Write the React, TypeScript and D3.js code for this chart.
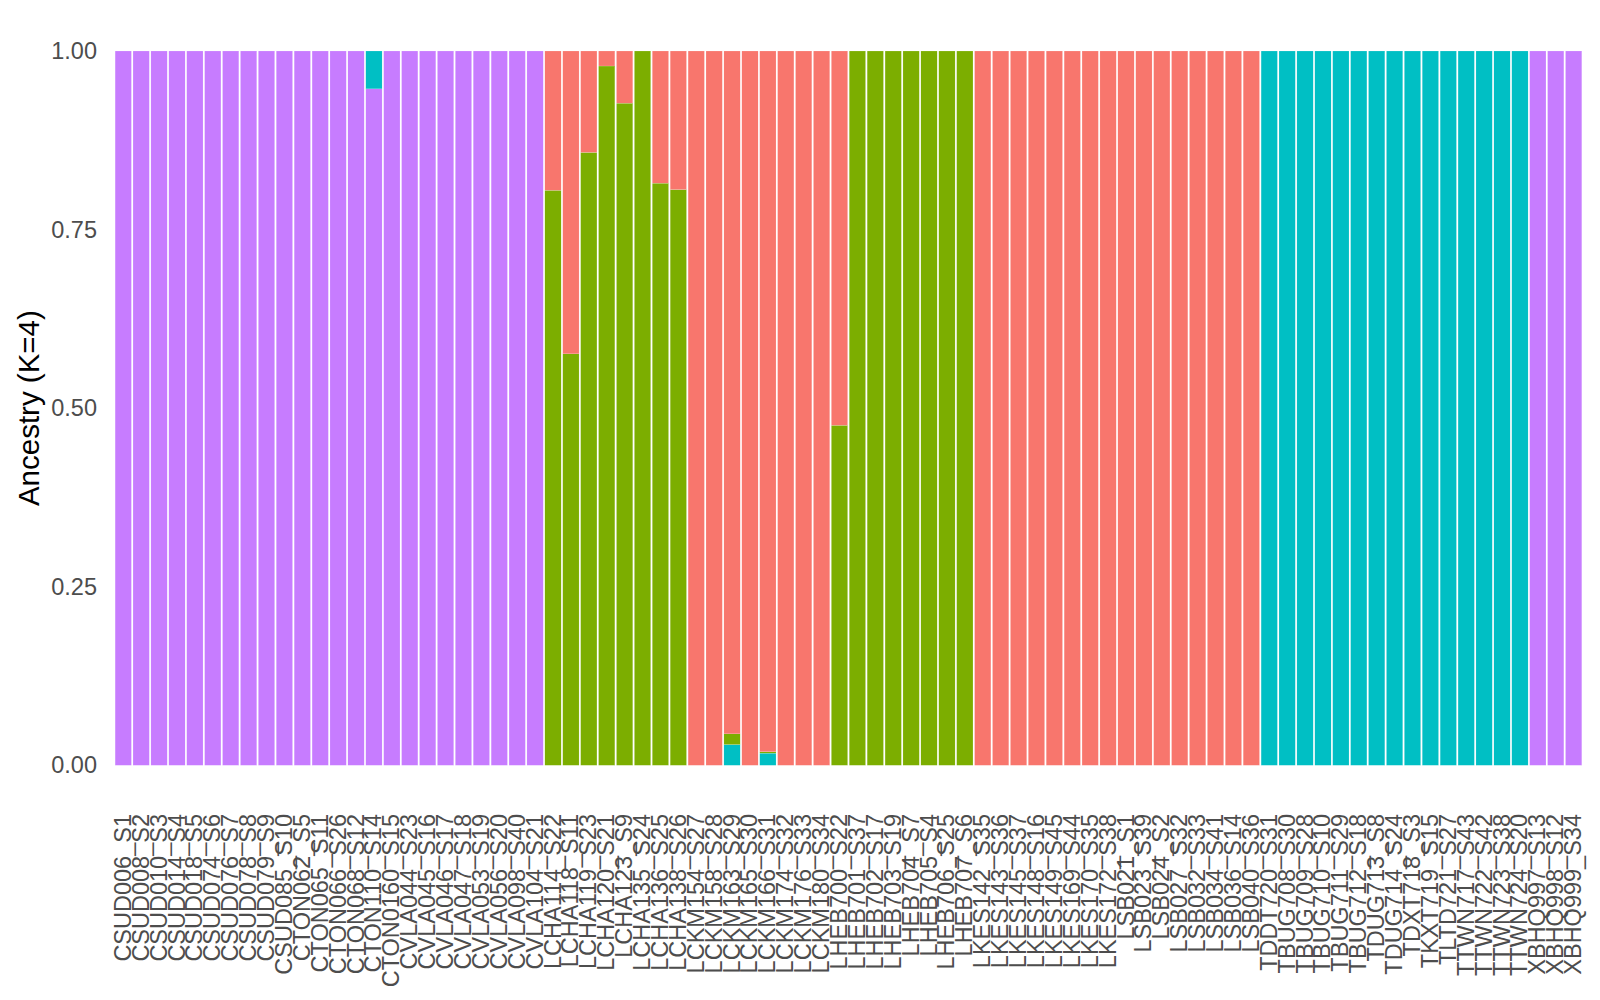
import React from "react";
import * as d3 from "d3";

const samples: string[] = [
  "CSUD006_S1", "CSUD008_S2", "CSUD010_S3", "CSUD014_S4", "CSUD018_S5", "CSUD074_S6", "CSUD076_S7", "CSUD078_S8", "CSUD079_S9", "CSUD085_S10",
  "CTON062_S5", "CTON065_S11", "CTON066_S26", "CTON068_S12", "CTON110_S14", "CTON0160_S15",
  "CVLA044_S23", "CVLA045_S16", "CVLA046_S17", "CVLA047_S18", "CVLA053_S19", "CVLA056_S20", "CVLA098_S40", "CVLA104_S21",
  "LCHA114_S22", "LCHA118_S11", "LCHA119_S23", "LCHA120_S21", "LCHA123_S9", "LCHA135_S24", "LCHA136_S25", "LCHA138_S26",
  "LCKM154_S27", "LCKM158_S28", "LCKM163_S29", "LCKM165_S30", "LCKM166_S31", "LCKM174_S32", "LCKM176_S33", "LCKM180_S34",
  "LHEB700_S22", "LHEB701_S37", "LHEB702_S17", "LHEB703_S19", "LHEB704_S7", "LHEB705_S4", "LHEB706_S25", "LHEB707_S6",
  "LKES142_S35", "LKES143_S36", "LKES145_S37", "LKES148_S16", "LKES149_S45", "LKES169_S44", "LKES170_S35", "LKES172_S38",
  "LSB021_S1", "LSB023_S39", "LSB024_S2", "LSB027_S32", "LSB032_S33", "LSB034_S41", "LSB036_S14", "LSB040_S36",
  "TDDT720_S31", "TBUG708_S30", "TBUG709_S28", "TBUG710_S10", "TBUG711_S29", "TBUG712_S18", "TDUG713_S8", "TDUG714_S24",
  "TDXT718_S3", "TKXT719_S15", "TLTD721_S27", "TTWN717_S43", "TTWN722_S42", "TTWN723_S38", "TTWN724_S20",
  "XBHQ997_S13", "XBHQ998_S12", "XBHQ999_S34",
];

// ancestry components (stacked bottom -> top: purple, teal, green, red)
const purpleQ: number[] = [
  1, 1, 1, 1, 1, 1, 1, 1, 1, 1,
  1, 1, 1, 1, 0.947, 1,
  1, 1, 1, 1, 1, 1, 1, 1,
  0, 0, 0, 0, 0, 0, 0, 0,
  0, 0, 0, 0, 0, 0, 0, 0,
  0, 0, 0, 0, 0, 0, 0, 0,
  0, 0, 0, 0, 0, 0, 0, 0,
  0, 0, 0, 0, 0, 0, 0, 0,
  0, 0, 0, 0, 0, 0, 0, 0,
  0, 0, 0, 0, 0, 0, 0,
  1, 1, 1,
];
const tealQ: number[] = [
  0, 0, 0, 0, 0, 0, 0, 0, 0, 0,
  0, 0, 0, 0, 0.053, 0,
  0, 0, 0, 0, 0, 0, 0, 0,
  0, 0, 0, 0, 0, 0, 0, 0,
  0, 0, 0.029, 0, 0.017, 0, 0, 0,
  0, 0, 0, 0, 0, 0, 0, 0,
  0, 0, 0, 0, 0, 0, 0, 0,
  0, 0, 0, 0, 0, 0, 0, 0,
  1, 1, 1, 1, 1, 1, 1, 1,
  1, 1, 1, 1, 1, 1, 1,
  0, 0, 0,
];
const greenQ: number[] = [
  0, 0, 0, 0, 0, 0, 0, 0, 0, 0,
  0, 0, 0, 0, 0, 0,
  0, 0, 0, 0, 0, 0, 0, 0,
  0.805, 0.576, 0.858, 0.979, 0.927, 1, 0.815, 0.806,
  0, 0, 0.015, 0, 0.002, 0, 0, 0,
  0.476, 1, 1, 1, 1, 1, 1, 1,
  0, 0, 0, 0, 0, 0, 0, 0,
  0, 0, 0, 0, 0, 0, 0, 0,
  0, 0, 0, 0, 0, 0, 0, 0,
  0, 0, 0, 0, 0, 0, 0,
  0, 0, 0,
];
const redQ: number[] = [
  0, 0, 0, 0, 0, 0, 0, 0, 0, 0,
  0, 0, 0, 0, 0, 0,
  0, 0, 0, 0, 0, 0, 0, 0,
  0.195, 0.424, 0.142, 0.021, 0.073, 0, 0.185, 0.194,
  1, 1, 0.956, 1, 0.981, 1, 1, 1,
  0.524, 0, 0, 0, 0, 0, 0, 0,
  1, 1, 1, 1, 1, 1, 1, 1,
  1, 1, 1, 1, 1, 1, 1, 1,
  0, 0, 0, 0, 0, 0, 0, 0,
  0, 0, 0, 0, 0, 0, 0,
  0, 0, 0,
];

const componentKeys = ["purple", "teal", "green", "red"];
const componentColors = ["#C77CFF", "#00BFC4", "#7CAE00", "#F8766D"];
const yTicks: number[] = [0, 0.25, 0.5, 0.75, 1];
const yTitle = "Ancestry (K=4)";

const W = 1600;
const H = 1000;
const plotLeft = 114.3;
const plotRight = 1582.6;
const plotTop = 51;
const plotBottom = 765.3;

export default function App() {
  const rows = samples.map((s, i) => ({
    idx: String(i),
    purple: purpleQ[i],
    teal: tealQ[i],
    green: greenQ[i],
    red: redQ[i],
  }));
  const x = d3
    .scaleBand<string>()
    .domain(rows.map((r) => r.idx))
    .range([plotLeft, plotRight])
    .paddingInner(0.09)
    .paddingOuter(0.045);
  const y = d3.scaleLinear().domain([0, 1]).range([plotBottom, plotTop]);
  const stack = d3.stack<any>().keys(componentKeys);
  const series = stack(rows);
  const font = "'Liberation Sans', Arial, Helvetica, sans-serif";

  return (
    <svg
      width={W}
      height={H}
      style={{ position: "absolute", left: 0, top: 0, background: "#fff" }}
      fontFamily={font}
    >
      <rect x={0} y={0} width={W} height={H} fill="#fff" />
      {series.map((s, si) => (
        <g key={componentKeys[si]} fill={componentColors[si]}>
          {s.map((d: any, i: number) => {
            const h = y(d[0]) - y(d[1]);
            if (h <= 0) return null;
            return (
              <rect
                key={i}
                x={x(d.data.idx)}
                y={y(d[1])}
                width={x.bandwidth()}
                height={h}
                stroke="#ffffff"
                strokeWidth={0.25}
                strokeOpacity={0.6}
              />
            );
          })}
        </g>
      ))}
      {yTicks.map((t) => (
        <text
          key={t}
          x={97}
          y={y(t)}
          textAnchor="end"
          dominantBaseline="central"
          fontSize={23.5}
          fill="#4D4D4D"
        >
          {t.toFixed(2)}
        </text>
      ))}
      <text
        transform={`translate(28,${(plotTop + plotBottom) / 2}) rotate(-90)`}
        textAnchor="middle"
        dominantBaseline="central"
        fontSize={29.5}
        fill="#000"
      >
        {yTitle}
      </text>
      {rows.map((r, i) => {
        const cx = (x(r.idx) as number) + x.bandwidth() / 2;
        return (
          <text
            key={r.idx}
            transform={`translate(${cx},814) rotate(-90)`}
            textAnchor="end"
            dy="0.32em"
            fontSize={23.5}
            fill="#4D4D4D"
          >
            {samples[i]}
          </text>
        );
      })}
    </svg>
  );
}
